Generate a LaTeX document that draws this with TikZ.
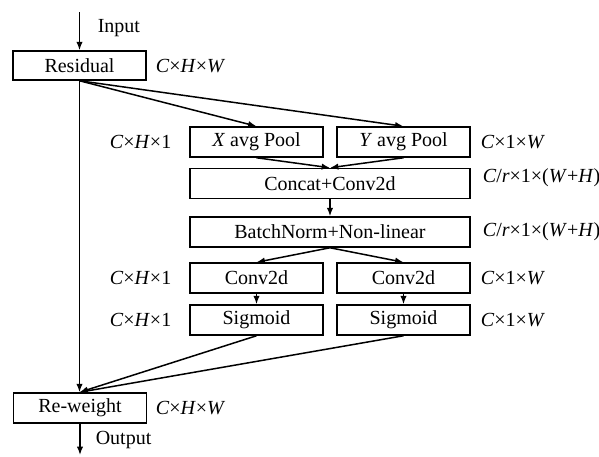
\documentclass[tikz,border=0pt]{standalone}
\usepackage{fontspec}
\setmainfont{Liberation Serif}
\usepackage{tikz}
\usetikzlibrary{positioning, arrows.meta}

\newcommand{\iC}{\textit{C}}
\newcommand{\iH}{\textit{H}}
\newcommand{\iW}{\textit{W}}

\begin{document}
\begin{tikzpicture}[>={Latex[length=4.2pt,width=3.2pt]}, x=0.5pt, y=-0.5pt, line width=0.75pt,
  block/.style={draw, minimum width=66.5pt, minimum height=15pt, inner sep=0pt, align=center},
  wideblock/.style={block, minimum width=140pt},
  dimlabel/.style={inner sep=0pt}]
  \useasboundingbox (0,0) rectangle (599,456);

  % Input / Residual
  \coordinate (in) at (79.5,12);
  \node (residual) at (79.5,65.5) [block, minimum height=14.5pt] {Residual};
  \node at (97,28) [dimlabel, anchor=west] {Input};
  \node at (155,66) [dimlabel, anchor=west] {\iC×\iH×\iW};

  % Pooling
  \node (xpool) at (256.5,142) [block] {\textit{X} avg Pool};
  \node (ypool) at (403.5,142) [block] {\textit{Y} avg Pool};
  \node at (172,142) [dimlabel, anchor=east] {\iC×\iH×1};
  \node at (480,142) [dimlabel, anchor=west] {\iC×1×\iW};

  % Concat + BatchNorm
  \node (concat) at (330,183.5) [wideblock] {Concat+Conv2d};
  \node (bnorm) at (330,232) [wideblock] {BatchNorm+Non-linear};
  \node at (482,178) [dimlabel, anchor=west] {\iC/\textit{r}×1×(\iW+\iH)};
  \node at (482,232) [dimlabel, anchor=west] {\iC/\textit{r}×1×(\iW+\iH)};

  % Conv2d
  \node (xconv) at (256.5,278) [block] {Conv2d};
  \node (yconv) at (403.5,278) [block] {Conv2d};
  \node at (172,278) [dimlabel, anchor=east] {\iC×\iH×1};
  \node at (480,278) [dimlabel, anchor=west] {\iC×1×\iW};

  % Sigmoid
  \node (xsig) at (256.5,320) [block] {Sigmoid};
  \node (ysig) at (403.5,320) [block] {Sigmoid};
  \node at (172,320) [dimlabel, anchor=east] {\iC×\iH×1};
  \node at (480,320) [dimlabel, anchor=west] {\iC×1×\iW};

  % Re-weight / Output
  \node (reweight) at (80,408) [block] {Re-weight};
  \node at (155,408) [dimlabel, anchor=west] {\iC×\iH×\iW};
  \coordinate (out) at (80,455);
  \node at (95,440) [dimlabel, anchor=west] {Output};

  % arrows
  \draw[->] (in) -- (residual.north);
  \draw[->] (residual.south) -- (xpool.north);
  \draw[->] (residual.south) -- (ypool.north);
  \draw[->] (residual.south) -- (residual.south |- reweight.north);
  \draw[->] (xpool.south) -- (concat.north);
  \draw[->] (ypool.south) -- (concat.north);
  \draw[->] (concat.south) -- (bnorm.north);
  \draw[->] (bnorm.south) -- (xconv.north);
  \draw[->] (bnorm.south) -- (yconv.north);
  \draw[->] (xconv.south) -- (xsig.north);
  \draw[->] (yconv.south) -- (ysig.north);
  \draw[->] (xsig.south) -- (residual.south |- reweight.north);
  \draw[->] (ysig.south) -- (residual.south |- reweight.north);
  \draw[->] (reweight.south) -- (out);

\end{tikzpicture}
\end{document}
